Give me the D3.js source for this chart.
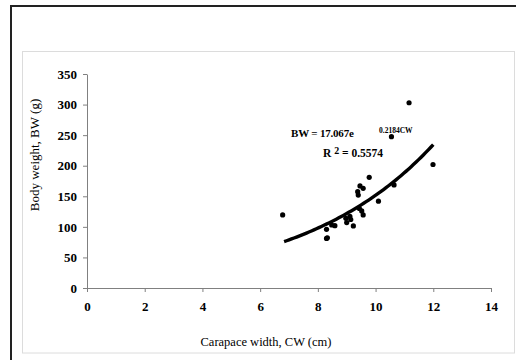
<!DOCTYPE html>
<html><head><meta charset="utf-8">
<script src="https://cdn.jsdelivr.net/npm/d3@7"></script>
<style>body{margin:0;background:#fff}svg{display:block}text{font-family:"Liberation Serif","Times New Roman",serif}</style>
</head><body>
<svg id="c" width="516" height="360"></svg>
<script>
const cw = [6.78,8.30,8.30,8.33,8.48,8.59,8.97,9.00,9.11,9.14,9.23,9.38,9.40,9.46,9.57,9.44,9.52,9.57,9.78,10.10,10.55,10.64,11.16,11.99];
const bw = [119.5,96,81,82,103,102,114,107,117,112,101.5,157.5,152,167,163,130,126,119.5,181,142,247.5,168.5,303,202];
const fitCoef = [17.067, 0.2184];
const fitRange = [6.83, 12.0];
const r2 = 0.5574;
const xTicks = [0,2,4,6,8,10,12,14];
const yTicks = [0,50,100,150,200,250,300,350];

const svg = d3.select("#c");
// frames
svg.append("rect").attr("x",22.5).attr("y",51.5).attr("width",492).attr("height",301.5)
  .attr("fill","none").attr("stroke","#dcdcdc").attr("stroke-width",1);
svg.append("path").attr("d","M11,360V6H516").attr("fill","none").attr("stroke","#222").attr("stroke-width",2);

const x = d3.scaleLinear().domain([0,14]).range([87,491]);
const y = d3.scaleLinear().domain([0,350]).range([288,74]);

const gx = svg.append("g").attr("transform","translate(0,288)")
  .call(d3.axisBottom(x).tickValues(xTicks).tickSize(4).tickSizeOuter(0).tickPadding(10));
const gy = svg.append("g").attr("transform","translate(87,0)")
  .call(d3.axisLeft(y).tickValues(yTicks).tickSize(4).tickSizeOuter(0).tickPadding(6));
[gx,gy].forEach(g=>{
  g.attr("font-family",'"Liberation Serif",serif').attr("font-size",13).attr("font-weight","bold");
  g.select(".domain").attr("stroke","#808080");
  g.selectAll(".tick line").attr("stroke","#808080");
  g.selectAll(".tick text").attr("fill","#000");
});

// trendline
const n = 60;
const pts = d3.range(n+1).map(i=>{const c=fitRange[0]+(fitRange[1]-fitRange[0])*i/n;return [c, fitCoef[0]*Math.exp(fitCoef[1]*c)];});
svg.append("path").datum(pts).attr("d",d3.line().x(d=>x(d[0])).y(d=>y(d[1])))
  .attr("fill","none").attr("stroke","#000").attr("stroke-width",3.4);

svg.append("g").selectAll("circle").data(cw.map((c,i)=>[c,bw[i]])).join("circle")
  .attr("cx",d=>x(d[0])).attr("cy",d=>y(d[1])).attr("r",2.6).attr("fill","#000");

// equation
svg.append("text").attr("x",291).attr("y",137).attr("font-size","11px").attr("font-weight","bold")
  .attr("letter-spacing","-0.2").text("BW = " + fitCoef[0].toFixed(3) + "e");
svg.append("text").attr("x",379).attr("y",133).attr("font-size","7.5px").attr("font-weight","bold")
  .text(fitCoef[1].toFixed(4) + "CW");
const rt = svg.append("text").attr("x",323).attr("y",157).attr("font-size","11.5px").attr("font-weight","bold");
rt.append("tspan").text("R ");
rt.append("tspan").attr("font-size","10px").attr("dy",-3).text("2");
rt.append("tspan").attr("dy",3).text(" = " + r2.toFixed(4));

// axis titles
svg.append("text").attr("x",266).attr("y",346).attr("text-anchor","middle").attr("font-size","12.5px")
  .text("Carapace width, CW (cm)");
svg.append("text").attr("transform","translate(39,155) rotate(-90)").attr("text-anchor","middle").attr("font-size","13px")
  .text("Body weight, BW (g)");
</script>
</body></html>
